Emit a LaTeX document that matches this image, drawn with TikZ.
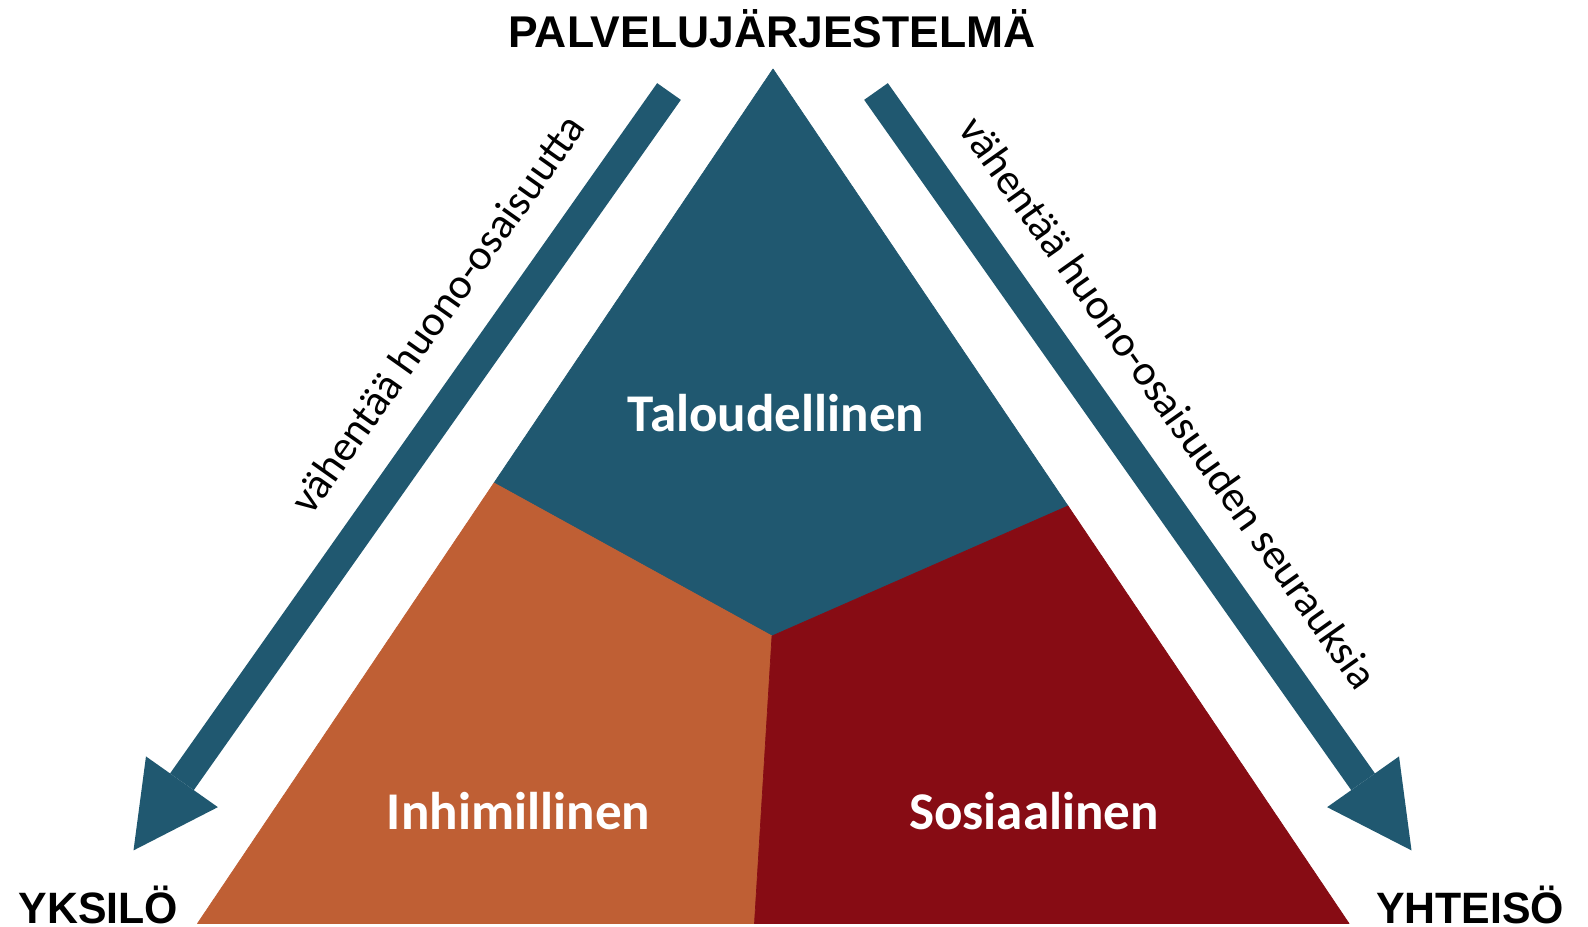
\documentclass[tikz,border=0pt]{standalone}
\usepackage{fontspec}
\setmainfont{Carlito}
\newfontfamily\headfont[FakeStretch=0.975]{Liberation Sans}
\newfontfamily\titlefont[FakeStretch=1.0]{Liberation Sans}
\usetikzlibrary{arrows.meta}
\definecolor{tblue}{RGB}{32,88,112}
\definecolor{torange}{RGB}{191,95,52}
\definecolor{tred}{RGB}{135,12,20}
\begin{document}
\begin{tikzpicture}[x=0.02cm,y=-0.02cm,
  cornerlabel/.style={font=\headfont\bfseries\fontsize{25}{30}\selectfont, inner sep=0pt, anchor=base},
  titlelabel/.style={font=\titlefont\bfseries\fontsize{25.3}{30}\selectfont, inner sep=0pt, anchor=base},
  seglabel/.style={font=\bfseries\fontsize{30.2}{36}\selectfont, text=white, inner sep=0pt, anchor=base},
  sidelabel/.style={font=\fontsize{24.5}{29}\selectfont, inner sep=0pt, anchor=base},
  segment/.style={line width=0.4pt, line join=round},
  bigarrow/.style={draw=tblue, line width=0.58cm,
    -{Triangle[length=1.68cm,width=1.76cm,line width=0pt]}}]
\useasboundingbox (0,0) rectangle (1588,926);
\fill[white] (0,0) rectangle (1588,926);
% triangle geometry
\coordinate (A) at (773,69);
\coordinate (BL) at (197.5,923.5);
\coordinate (BR) at (1349,923.5);
\coordinate (L) at (494,483);
\coordinate (R) at (1068,506);
\coordinate (M) at (772,636);
\coordinate (Bm) at (754.5,923.5);
\filldraw[segment, fill=tblue, draw=tblue] (A) -- (R) -- (M) -- (L) -- cycle;
\filldraw[segment, fill=torange, draw=torange] (L) -- (M) -- (Bm) -- (BL) -- cycle;
\filldraw[segment, fill=tred, draw=tred] (M) -- (R) -- (BR) -- (Bm) -- cycle;
% arrows
\coordinate (lstart) at (669,91.5);
\coordinate (lend) at (133.5,850.4);
\coordinate (rstart) at (876,91.5);
\coordinate (rend) at (1411.5,850.4);
\draw[bigarrow] (lstart) -- (lend);
\draw[bigarrow] (rstart) -- (rend);
% labels
\node[titlelabel] (top) at (772,48) {PALVELUJÄRJESTELMÄ};
\node[cornerlabel] (yks) at (98.5,923) {YKSILÖ};
\node[cornerlabel] (yht) at (1470,923) {YHTEISÖ};
\node[seglabel] (tal) at (776,431.5) {Taloudellinen};
\node[seglabel] (inh) at (518.5,829) {Inhimillinen};
\node[seglabel] (sos) at (1034,829) {Sosiaalinen};
\node[sidelabel, rotate=54.7] (ltext) at (449,322) {vähentää huono-osaisuutta};
\node[sidelabel, rotate=-54.7] (rtext) at (1157,411) {vähentää huono-osaisuuden seurauksia};
\end{tikzpicture}
\end{document}
